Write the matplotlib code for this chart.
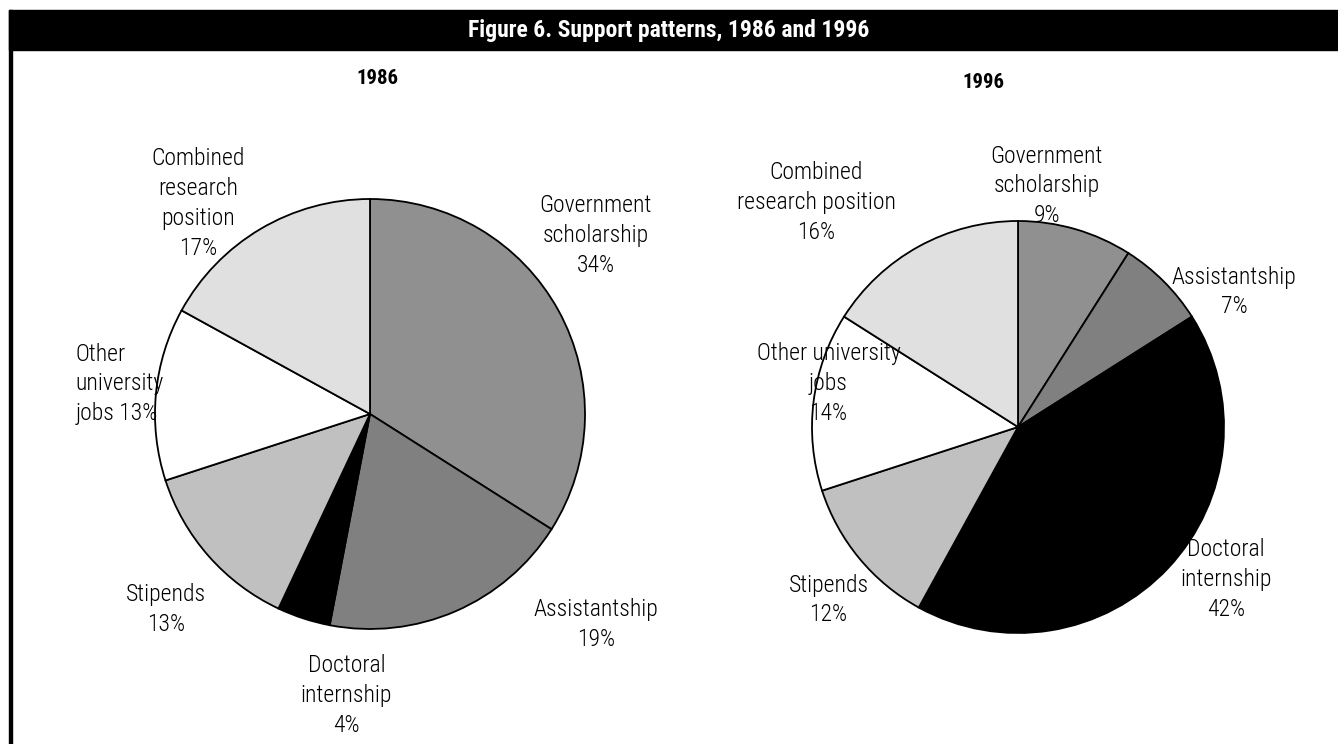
import matplotlib
matplotlib.use("Agg")
import matplotlib.pyplot as plt
from matplotlib import font_manager as fm
from matplotlib.patches import Rectangle

# data
categories = ["Government scholarship", "Assistantship", "Doctoral internship",
              "Stipends", "Other university jobs", "Combined research position"]
share_1986 = [34, 19, 4, 13, 13, 17]
share_1996 = [9, 7, 42, 12, 14, 16]
labels_1986 = ["Government\nscholarship\n34%", "Assistantship\n19%",
               "Doctoral\ninternship\n4%", "Stipends\n13%",
               "Other\nuniversity\njobs 13%", "Combined\nresearch\nposition\n17%"]
labels_1996 = ["Government\nscholarship\n9%", "Assistantship\n7%",
               "Doctoral\ninternship\n42%", "Stipends\n12%",
               "Other university\njobs\n14%", "Combined\nresearch position\n16%"]
colors = ["#909090", "#808080", "#000000", "#c0c0c0", "#ffffff", "#e0e0e0"]

# label placement, in pie radius units (x, y, horizontal alignment)
pos_1986 = [(1.05, 0.83, 'center'), (1.05, -0.98, 'center'), (-0.11, -1.31, 'center'),
            (-0.95, -0.91, 'center'), (-1.37, 0.14, 'left'), (-0.80, 0.98, 'center')]
pos_1996 = [(0.14, 1.17, 'center'), (1.05, 0.655, 'center'), (1.01, -0.74, 'center'),
            (-0.92, -0.84, 'center'), (-0.92, 0.21, 'center'), (-0.98, 1.09, 'center')]


def weight_of(f):
    if isinstance(f.weight, int):
        return f.weight
    return {'light': 300, 'bold': 700, 'medium': 500}.get(str(f.weight), 400)


# look for a narrow sans font (Arial Narrow look-alike)
def narrow_font(target):
    prefs = ['Liberation Sans Narrow', 'Roboto Condensed', 'Open Sans Condensed',
             'Noto Sans', 'DejaVu Sans', 'Open Sans', 'Roboto', 'Lato', 'Inter']
    found = []
    for f in fm.fontManager.ttflist:
        narrow = ('Narrow' in f.name or 'Condensed' in f.name
                  or f.stretch in ('condensed', 'semi-condensed', 'extra-condensed')
                  or 'Condensed' in f.fname or 'Narrow' in f.fname)
        if not narrow or f.style != 'normal':
            continue
        rank = next((i for i, p in enumerate(prefs) if f.name.startswith(p)), len(prefs))
        found.append((rank, abs(weight_of(f) - target), f.fname))
    if found:
        found.sort()
        return fm.FontProperties(fname=found[0][2]), True
    return fm.FontProperties(family='DejaVu Sans',
                             weight='bold' if target >= 600 else 'normal'), False


reg_fp, reg_narrow = narrow_font(300)
bold_fp, bold_narrow = narrow_font(700)
label_size = 17 if reg_narrow else 14
title_size = 17 if bold_narrow else 14
year_size = 15 if bold_narrow else 12

W, H = 1338, 744
fig = plt.figure(figsize=(W / 100, H / 100), dpi=100)
fig.patch.set_facecolor('white')

# frame: black title bar and left rule
fig.patches.append(Rectangle((9 / W, 1 - 50 / H), 1 - 9 / W, 40 / H,
                             transform=fig.transFigure, color='black', zorder=0))
fig.patches.append(Rectangle((9 / W, 0), 3 / W, 1 - 10 / H,
                             transform=fig.transFigure, color='black', zorder=0))
fig.text(0.5, 1 - 30 / H, "Figure 6. Support patterns, 1986 and 1996",
         color='white', fontproperties=bold_fp, fontsize=title_size,
         ha='center', va='center')


def draw_pie(cx, cy, r, values, labels, pos, year, year_x, year_y):
    ax = fig.add_axes([(cx - r) / W, (H - cy - r) / H, 2 * r / W, 2 * r / H])
    ax.pie(values, colors=colors, startangle=90, counterclock=False, radius=1,
           wedgeprops=dict(edgecolor='black', linewidth=1.3))
    ax.set_xlim(-1, 1)
    ax.set_ylim(-1, 1)
    ax.set_aspect('equal')
    ax.axis('off')
    for lab, (x, y, ha) in zip(labels, pos):
        ax.text(x, y, lab, ha=ha, va='center', multialignment=ha,
                fontproperties=reg_fp, fontsize=label_size, linespacing=1.38,
                clip_on=False)
    fig.text(year_x / W, 1 - year_y / H, year, fontproperties=bold_fp,
             fontsize=year_size, ha='center', va='center')


draw_pie(370, 414, 215, share_1986, labels_1986, pos_1986, "1986", 377, 78)
draw_pie(1018, 427, 206, share_1996, labels_1996, pos_1996, "1996", 983, 83)

fig.savefig("out.png", dpi=100)
